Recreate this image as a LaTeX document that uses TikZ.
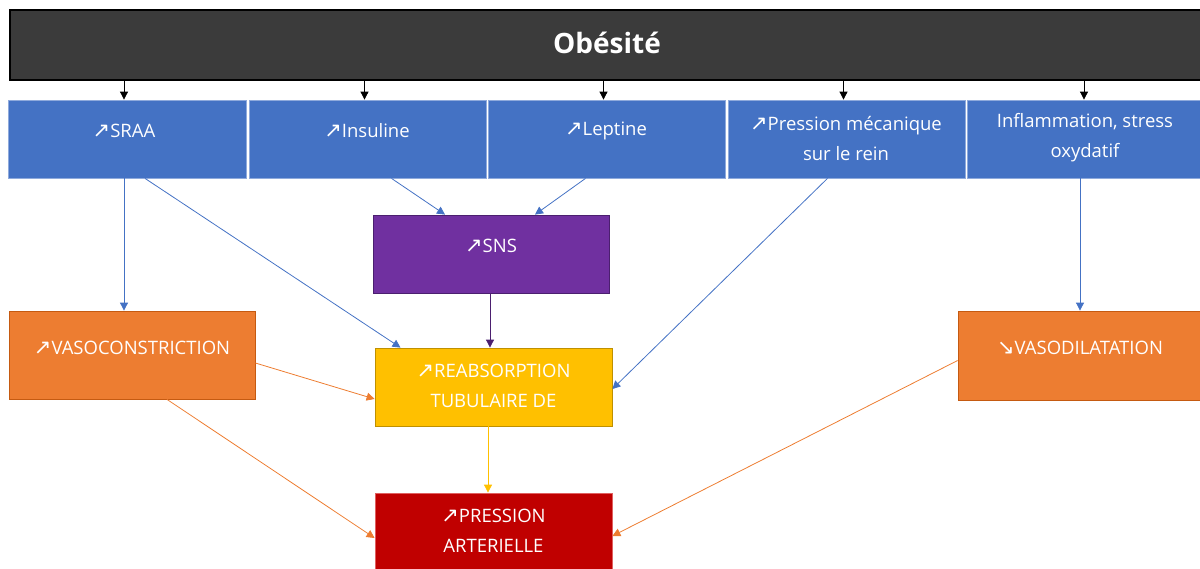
\documentclass[tikz,border=0pt]{standalone}
\usepackage{fontspec}
\setmainfont{Open Sans}
\newfontfamily\symf{DejaVu Sans}
\usetikzlibrary{arrows.meta}
\definecolor{cblue}{HTML}{4472C4}
\definecolor{cblueline}{HTML}{8FAADC}
\definecolor{cpurple}{HTML}{7030A0}
\definecolor{cpurpleline}{HTML}{4B1F6F}
\definecolor{corange}{HTML}{ED7D31}
\definecolor{corangeline}{HTML}{C55A11}
\definecolor{cyellow}{HTML}{FFC000}
\definecolor{cyellowline}{HTML}{BF9000}
\definecolor{cred}{HTML}{C00000}
\definecolor{credline}{HTML}{E06060}
\definecolor{cdark}{HTML}{3B3B3B}
\newcommand{\upar}{{\symf\fontsize{21}{21}\selectfont\symbol{"2197}}}
\newcommand{\dnar}{{\symf\fontsize{21}{21}\selectfont\symbol{"2198}}}
\tikzset{
  box/.style={rectangle, inner sep=0pt, line width=0.8pt},
  lbl/.style={text=white, align=center, font=\fontsize{18.5}{30}\selectfont, inner sep=0pt},
  tip/.style={-{Triangle[width=8pt,length=8pt]}, line width=0.8pt},
}
\begin{document}
\begin{tikzpicture}[x=1pt,y=-1pt]
\useasboundingbox (0,0) rectangle (1200,568);
% top bar
\node[box, draw=black, line width=1.5pt, fill=cdark, minimum width=1195pt, minimum height=70pt] (ob) at (607.5,45) {};
\node[text=white, font=\bfseries\fontsize{28}{28}\selectfont] at (607,43) {Obésité};
% blue boxes
\node[box, draw=cblueline, fill=cblue, minimum width=238pt, minimum height=78pt] (sraa) at (127,139) {};
\node[box, draw=cblueline, fill=cblue, minimum width=237pt, minimum height=78pt] (ins) at (367.5,139) {};
\node[box, draw=cblueline, fill=cblue, minimum width=237pt, minimum height=78pt] (lep) at (606.5,139) {};
\node[box, draw=cblueline, fill=cblue, minimum width=237pt, minimum height=78pt] (pm) at (846.5,139) {};
\node[box, draw=cblueline, fill=cblue, minimum width=240pt, minimum height=78pt] (inf) at (1087,139) {};
\node[lbl] at (124,131) {\upar SRAA};
\node[lbl] at (367,131) {\upar Insuline};
\node[lbl] at (606,131) {\upar Leptine};
\node[lbl] at (846,138) {\upar Pression mécanique\\sur le rein};
\node[lbl] at (1085,138) {Inflammation, stress\\oxydatif};
% second level
\node[box, draw=cpurpleline, fill=cpurple, minimum width=236pt, minimum height=78pt] (sns) at (491,254) {};
\node[lbl] at (491,246) {\upar SNS};
\node[box, draw=corangeline, fill=corange, minimum width=246pt, minimum height=88pt] (vc) at (132,355) {};
\node[lbl] at (132,348) {\upar VASOCONSTRICTION};
\node[box, draw=cyellowline, fill=cyellow, minimum width=237pt, minimum height=78pt] (rea) at (493.5,387) {};
\node[lbl] at (493.5,386) {\upar REABSORPTION\\TUBULAIRE DE};
\node[box, draw=corangeline, fill=corange, minimum width=246pt, minimum height=89pt] (vd) at (1081,355.5) {};
\node[lbl] at (1080,348) {\dnar VASODILATATION};
\node[box, draw=credline, fill=cred, minimum width=237pt, minimum height=80pt] (pa) at (493.5,533) {};
\node[lbl] at (493.5,531) {\upar PRESSION\\ARTERIELLE};
% arrows from obesity
\foreach \n in {sraa,ins,lep,pm,inf}
  \draw[tip, black] (ob.south -| \n.north) ++(-3,0) -- ([xshift=-3pt]\n.north);
% blue arrows
\draw[tip, cblue] ([xshift=-3pt]sraa.south) -- ([xshift=-3pt,yshift=0pt]sraa.south |- vc.north);
\draw[tip, cblue] ([xshift=18pt]sraa.south) -- ([xshift=-93pt]rea.north);
\draw[tip, cblue] ([xshift=24pt]ins.south) -- ([xshift=-46pt]sns.north);
\draw[tip, cblue] ([xshift=-21pt]lep.south) -- ([xshift=44pt]sns.north);
\draw[tip, cblue] ([xshift=-19pt]pm.south) -- ([yshift=-2pt]rea.east);
\draw[tip, cblue] ([xshift=-7pt]inf.south) -- ([xshift=-1pt]vd.north);
% purple
\draw[tip, cpurpleline] ([xshift=-1pt]sns.south) -- ([xshift=-3.5pt]rea.north);
% orange
\draw[tip, corange] ([yshift=-8pt]vc.east) -- ([yshift=-12pt]rea.west);
\draw[tip, corange] ([xshift=35pt]vc.south) -- ([yshift=-5pt]pa.west);
\draw[tip, corange] ([yshift=-5pt]vd.west) -- ([yshift=-3pt]pa.east);
% yellow
\draw[tip, cyellow] ([xshift=-5.5pt]rea.south) -- ([xshift=-5.5pt]pa.north);
\end{tikzpicture}
\end{document}
